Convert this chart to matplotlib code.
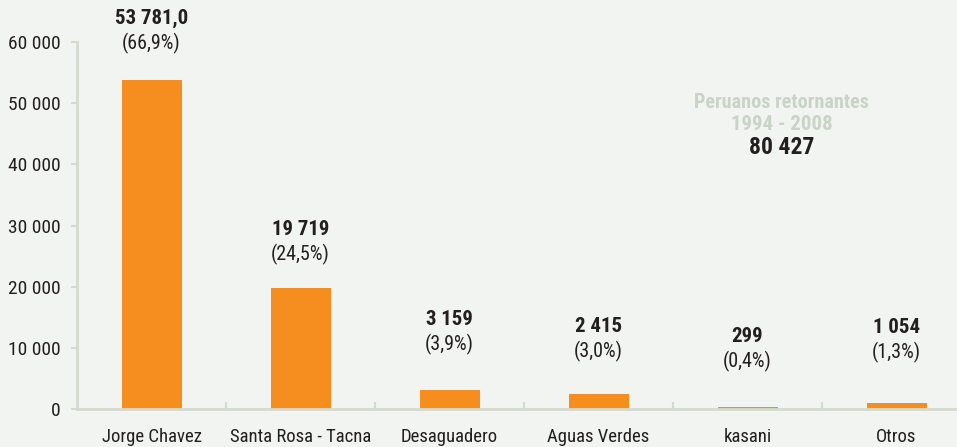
import matplotlib.pyplot as plt
import numpy as np

# data
puntos   = ['Jorge Chavez', 'Santa Rosa - Tacna', 'Desaguadero', 'Aguas Verdes', 'kasani', 'Otros']
valores  = [53781.0, 19719, 3159, 2415, 299, 1054]
etiq_val = ['53 781,0', '19 719', '3 159', '2 415', '299', '1 054']
etiq_pct = ['(66,9%)', '(24,5%)', '(3,9%)', '(3,0%)', '(0,4%)', '(1,3%)']
yticks   = [0, 10000, 20000, 30000, 40000, 50000, 60000]
ytick_lb = ['0', '10 000', '20 000', '30 000', '40 000', '50 000', '60 000']

bg      = '#f2f4f1'
naranja = '#f68e1f'
eje     = '#d3dbd0'
gris    = '#c9d4c6'
oscuro  = '#231f20'

plt.rcParams['font.family'] = ['Roboto Condensed', 'Archivo Narrow', 'Liberation Sans', 'DejaVu Sans']

fig = plt.figure(figsize=(9.57, 4.47), dpi=100, facecolor=bg)
ax = fig.add_axes([77/957, 38/447, 894/957, 367/447], facecolor=bg)

x = np.arange(len(puntos))
ax.bar(x, valores, width=60/149, color=naranja, zorder=2)

ax.set_xlim(-0.5, len(puntos) - 0.5)
ax.set_ylim(0, 60000)

# value labels above bars (offset in pixels)
off = [62, 59, 70, 68, 71, 75]
for i in range(len(puntos)):
    ax.annotate(etiq_val[i], (x[i], valores[i]), xytext=(0, off[i]*0.72), textcoords='offset points',
                ha='center', va='center', fontsize=15, fontweight='bold', color=oscuro)
    ax.annotate(etiq_pct[i], (x[i], valores[i]), xytext=(0, (off[i] - 25)*0.72), textcoords='offset points',
                ha='center', va='center', fontsize=14.5, color=oscuro)

ax.text(0.788, 0.834, 'Peruanos retornantes', transform=ax.transAxes, ha='center', va='center',
        fontsize=14.5, fontweight='bold', color=gris)
ax.text(0.788, 0.774, '1994 - 2008', transform=ax.transAxes, ha='center', va='center',
        fontsize=15, fontweight='bold', color=gris)
ax.text(0.788, 0.713, '80 427', transform=ax.transAxes, ha='center', va='center',
        fontsize=17, fontweight='bold', color=oscuro)

for s in ['top', 'right']:
    ax.spines[s].set_visible(False)
for s in ['left', 'bottom']:
    ax.spines[s].set_color(eje)
    ax.spines[s].set_linewidth(2)

ax.set_yticks(yticks)
ax.set_yticklabels(ytick_lb)
ax.set_xticks(x)
ax.set_xticklabels(puntos)
ax.set_xticks(np.arange(len(puntos)) + 0.5, minor=True)
ax.tick_params(axis='x', which='major', length=0, pad=14, labelsize=13.5, labelcolor=oscuro)
ax.tick_params(axis='x', which='minor', length=5, width=1.5, color=eje, direction='in')
ax.tick_params(axis='y', length=4, width=1.5, color=eje, pad=8, labelsize=14, labelcolor=oscuro)

fig.savefig('out.png', dpi=100, facecolor=bg)
